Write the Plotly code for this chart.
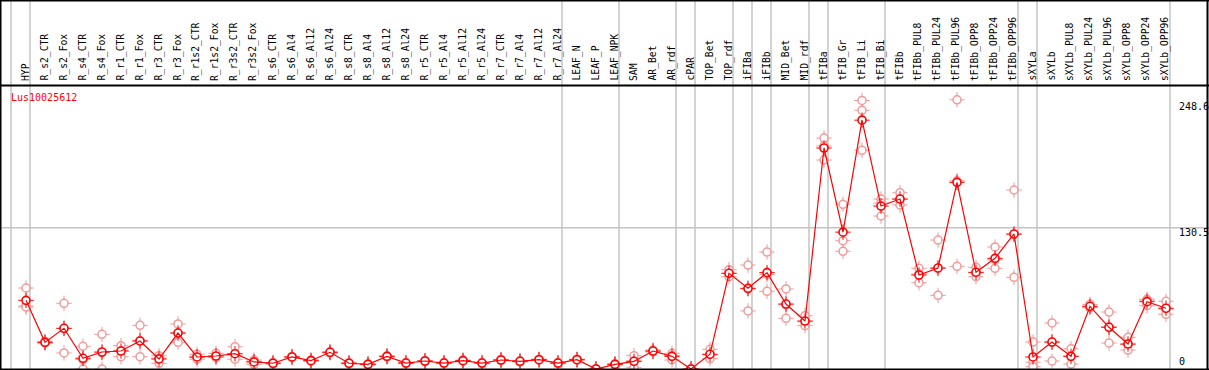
import plotly.graph_objects as go

categories = ["HYP", "R_s2_CTR", "R_s2_Fox", "R_s4_CTR", "R_s4_Fox", "R_r1_CTR", "R_r1_Fox",
              "R_r3_CTR", "R_r3_Fox", "R_r1s2_CTR", "R_r1s2_Fox", "R_r3s2_CTR", "R_r3s2_Fox",
              "R_s6_CTR", "R_s6_Al4", "R_s6_Al12", "R_s6_Al24", "R_s8_CTR", "R_s8_Al4",
              "R_s8_Al12", "R_s8_Al24", "R_r5_CTR", "R_r5_Al4", "R_r5_Al12", "R_r5_Al24",
              "R_r7_CTR", "R_r7_Al4", "R_r7_Al12", "R_r7_Al24", "LEAF_N", "LEAF_P", "LEAF_NPK",
              "SAM", "AR_Bet", "AR_rdf", "cPAR", "TOP_Bet", "TOP_rdf", "iFIBa", "iFIBb",
              "MID_Bet", "MID_rdf", "tFIBa", "tFIB_Gr", "tFIB_Li", "tFIB_Bi", "tFIBb",
              "tFIBb_PUL8", "tFIBb_PUL24", "tFIBb_PUL96", "tFIBb_OPP8", "tFIBb_OPP24",
              "tFIBb_OPP96", "sXYLa", "sXYLb", "sXYLb_PUL8", "sXYLb_PUL24", "sXYLb_PUL96",
              "sXYLb_OPP8", "sXYLb_OPP24", "sXYLb_OPP96"]

means = [63.4, 24.6, 37.6, 9.9, 15.7, 16.6, 25.9, 9.2, 33.2, 11.1,
         12.0, 14.1, 6.5, 5.3, 11.1, 7.7, 15.4, 5.3, 4.3, 11.7,
         5.5, 7.4, 5.5, 7.7, 5.5, 8.3, 7.1, 8.6, 5.5, 8.6,
         0.0, 4.3, 7.1, 16.6, 11.7, 0.0, 13.6, 88.4, 74.5, 89.0,
         60.0, 44.3, 204.1, 126.4, 229.8, 150.5, 157.0, 86.8, 93.3, 172.4,
         89.3, 102.2, 124.7, 11.1, 24.9, 11.7, 57.9, 38.5, 23.1, 62.2,
         56.1]

rep1 = [74.8, 25.5, 60.7, 21.0, 32.0, 21.5, 40.3, 12.3, 41.6, 13.6,
        14.5, 20.6, 8.3, 6.0, 11.6, 8.2, 15.9, 5.8, 4.8, 12.2,
        6.0, 7.9, 6.0, 8.2, 6.0, 8.8, 7.6, 9.1, 6.0, 9.1,
        0.0, 4.8, 12.3, 17.5, 14.5, 0.0, 18.2, 91.7, 96.0, 108.0,
        73.9, 49.2, 213.3, 152.1, 248.0, 157.0, 162.8, 93.0, 119.1, 248.6,
        93.9, 112.7, 165.3, 24.9, 42.5, 18.7, 59.7, 52.6, 29.3, 64.4,
        62.5]
rep2 = [58.2, 24.3, 37.3, 8.7, 15.1, 16.9, 26.0, 10.1, 33.4, 10.7,
        10.8, 12.7, 6.9, 5.3, 11.1, 7.7, 15.4, 5.3, 4.3, 11.7,
        5.5, 7.4, 5.5, 7.7, 5.5, 8.3, 7.1, 8.6, 5.5, 8.6,
        0.0, 4.3, 7.4, 16.6, 12.3, 0.0, 13.1, 88.3, 73.9, 87.3,
        59.3, 43.7, 206.0, 118.5, 238.9, 153.2, 156.7, 87.7, 92.8, 173.8,
        88.8, 100.9, 124.1, 6.3, 24.8, 11.8, 57.4, 39.0, 22.5, 63.7,
        55.3]
rep3 = [57.2, 24.0, 14.8, 0.0, 0.0, 11.4, 11.4, 5.2, 24.6, 9.0,
        10.7, 9.0, 4.3, 4.6, 10.6, 7.2, 14.9, 4.8, 3.8, 11.2,
        5.0, 6.9, 5.0, 7.2, 5.0, 7.8, 6.6, 8.1, 5.0, 8.1,
        0.0, 3.8, 1.6, 15.7, 8.3, 0.0, 9.5, 85.2, 53.6, 71.7,
        46.8, 40.0, 193.0, 108.7, 202.0, 141.3, 151.5, 79.7, 68.0, 94.8,
        85.2, 93.0, 84.7, 2.1, 7.4, 4.6, 56.6, 24.0, 17.5, 58.5,
        50.5]

# group separators (after these category indices)
separators = [-1, 0, 28, 31, 34, 35, 37, 38, 39, 41, 42, 45, 52, 53, 60]
y_ticks = [0, 130.5, 248.6]
gene_name = "Lus10025612"

W, H = 1209, 370
X0, DX = 26.0, 19.0          # pixel of first category, spacing
Y0PIX, PXPER = 369.0, 1.0828  # pixel of value 0, px per unit

xr = [-X0 / DX, (W - X0) / DX]
ymin = -(H - Y0PIX) / PXPER
yr = [ymin, ymin + H / PXPER]

def px_to_paper_x(p):
    return p / W

def px_to_paper_y(p):
    return 1 - p / H

RED = "#ff0000"
PINK = "#f09a9a"
FONT = "DejaVu Sans Mono"

xs = list(range(len(categories)))
rx = xs * 3
ry = rep1 + rep2 + rep3

fig = go.Figure()
# replicate markers: ticks then circle
fig.add_trace(go.Scatter(x=rx, y=ry, mode="markers", hoverinfo="skip",
                         marker=dict(symbol="cross-thin-open", size=11, color=PINK, line=dict(color=PINK, width=1))))
fig.add_trace(go.Scatter(x=rx, y=ry, mode="markers", hoverinfo="skip",
                         marker=dict(symbol="circle", size=8, color="white", line=dict(color=PINK, width=1.5))))
# mean markers
fig.add_trace(go.Scatter(x=xs, y=means, mode="markers", hoverinfo="skip",
                         marker=dict(symbol="cross-thin-open", size=11, color=RED, line=dict(color=RED, width=1))))
fig.add_trace(go.Scatter(x=xs, y=means, mode="markers",
                         marker=dict(symbol="circle", size=8, color="white", line=dict(color=RED, width=1.6))))
fig.add_trace(go.Scatter(x=xs, y=means, mode="lines", hoverinfo="skip",
                         line=dict(color=RED, width=1.2)))

shapes = []
# vertical group separators
for s in separators:
    xv = s + 4.0 / DX
    shapes.append(dict(type="line", xref="x", yref="paper", x0=xv, x1=xv, y0=0, y1=1,
                       line=dict(color="#c4c4c4", width=1.5), layer="below"))
# horizontal grid at 130.5
shapes.append(dict(type="line", xref="paper", yref="y", x0=0, x1=1, y0=130.5, y1=130.5,
                   line=dict(color="#c4c4c4", width=1.5), layer="below"))
# frame lines
blk = dict(color="black", width=2)
shapes.append(dict(type="line", xref="paper", yref="paper", x0=0, x1=1, y0=px_to_paper_y(0.5), y1=px_to_paper_y(0.5), line=blk))
shapes.append(dict(type="line", xref="paper", yref="paper", x0=0, x1=1, y0=px_to_paper_y(85.5), y1=px_to_paper_y(85.5), line=blk))
shapes.append(dict(type="line", xref="paper", yref="paper", x0=0, x1=1, y0=px_to_paper_y(369.5), y1=px_to_paper_y(369.5), line=blk))
shapes.append(dict(type="line", xref="paper", yref="paper", x0=px_to_paper_x(0.5), x1=px_to_paper_x(0.5), y0=0, y1=1, line=blk))
shapes.append(dict(type="line", xref="paper", yref="paper", x0=px_to_paper_x(1207.5), x1=px_to_paper_x(1207.5), y0=0, y1=1, line=blk))

annotations = []
for i, c in enumerate(categories):
    annotations.append(dict(x=i - 1.0 / DX, xref="x", y=px_to_paper_y(83), yref="paper",
                            text=c, textangle=-90, showarrow=False, xanchor="center", yanchor="bottom",
                            font=dict(family=FONT, size=9.7, color="black")))
annotations.append(dict(x=px_to_paper_x(9), xref="paper", y=px_to_paper_y(97), yref="paper",
                        text=gene_name, showarrow=False, xanchor="left", yanchor="middle",
                        font=dict(family=FONT, size=10, color=RED)))
ylab_pos = {0: 361.7, 130.5: 232.7, 248.6: 106.7}
for v in y_ticks:
    annotations.append(dict(x=px_to_paper_x(1177), xref="paper", y=px_to_paper_y(ylab_pos[v]), yref="paper",
                            text=str(v), showarrow=False, xanchor="left", yanchor="middle",
                            font=dict(family=FONT, size=10, color="black")))

fig.update_layout(
    width=W, height=H, margin=dict(l=0, r=0, t=0, b=0),
    paper_bgcolor="white", plot_bgcolor="white", showlegend=False,
    xaxis=dict(range=xr, showgrid=False, zeroline=False, showticklabels=False, ticks="", fixedrange=True),
    yaxis=dict(range=yr, showgrid=False, zeroline=False, showticklabels=False, ticks="", fixedrange=True),
    shapes=shapes, annotations=annotations,
)

fig.write_html("out.html", config={"displayModeBar": False},
               post_script="document.body.style.margin='0';document.body.style.padding='0';")
